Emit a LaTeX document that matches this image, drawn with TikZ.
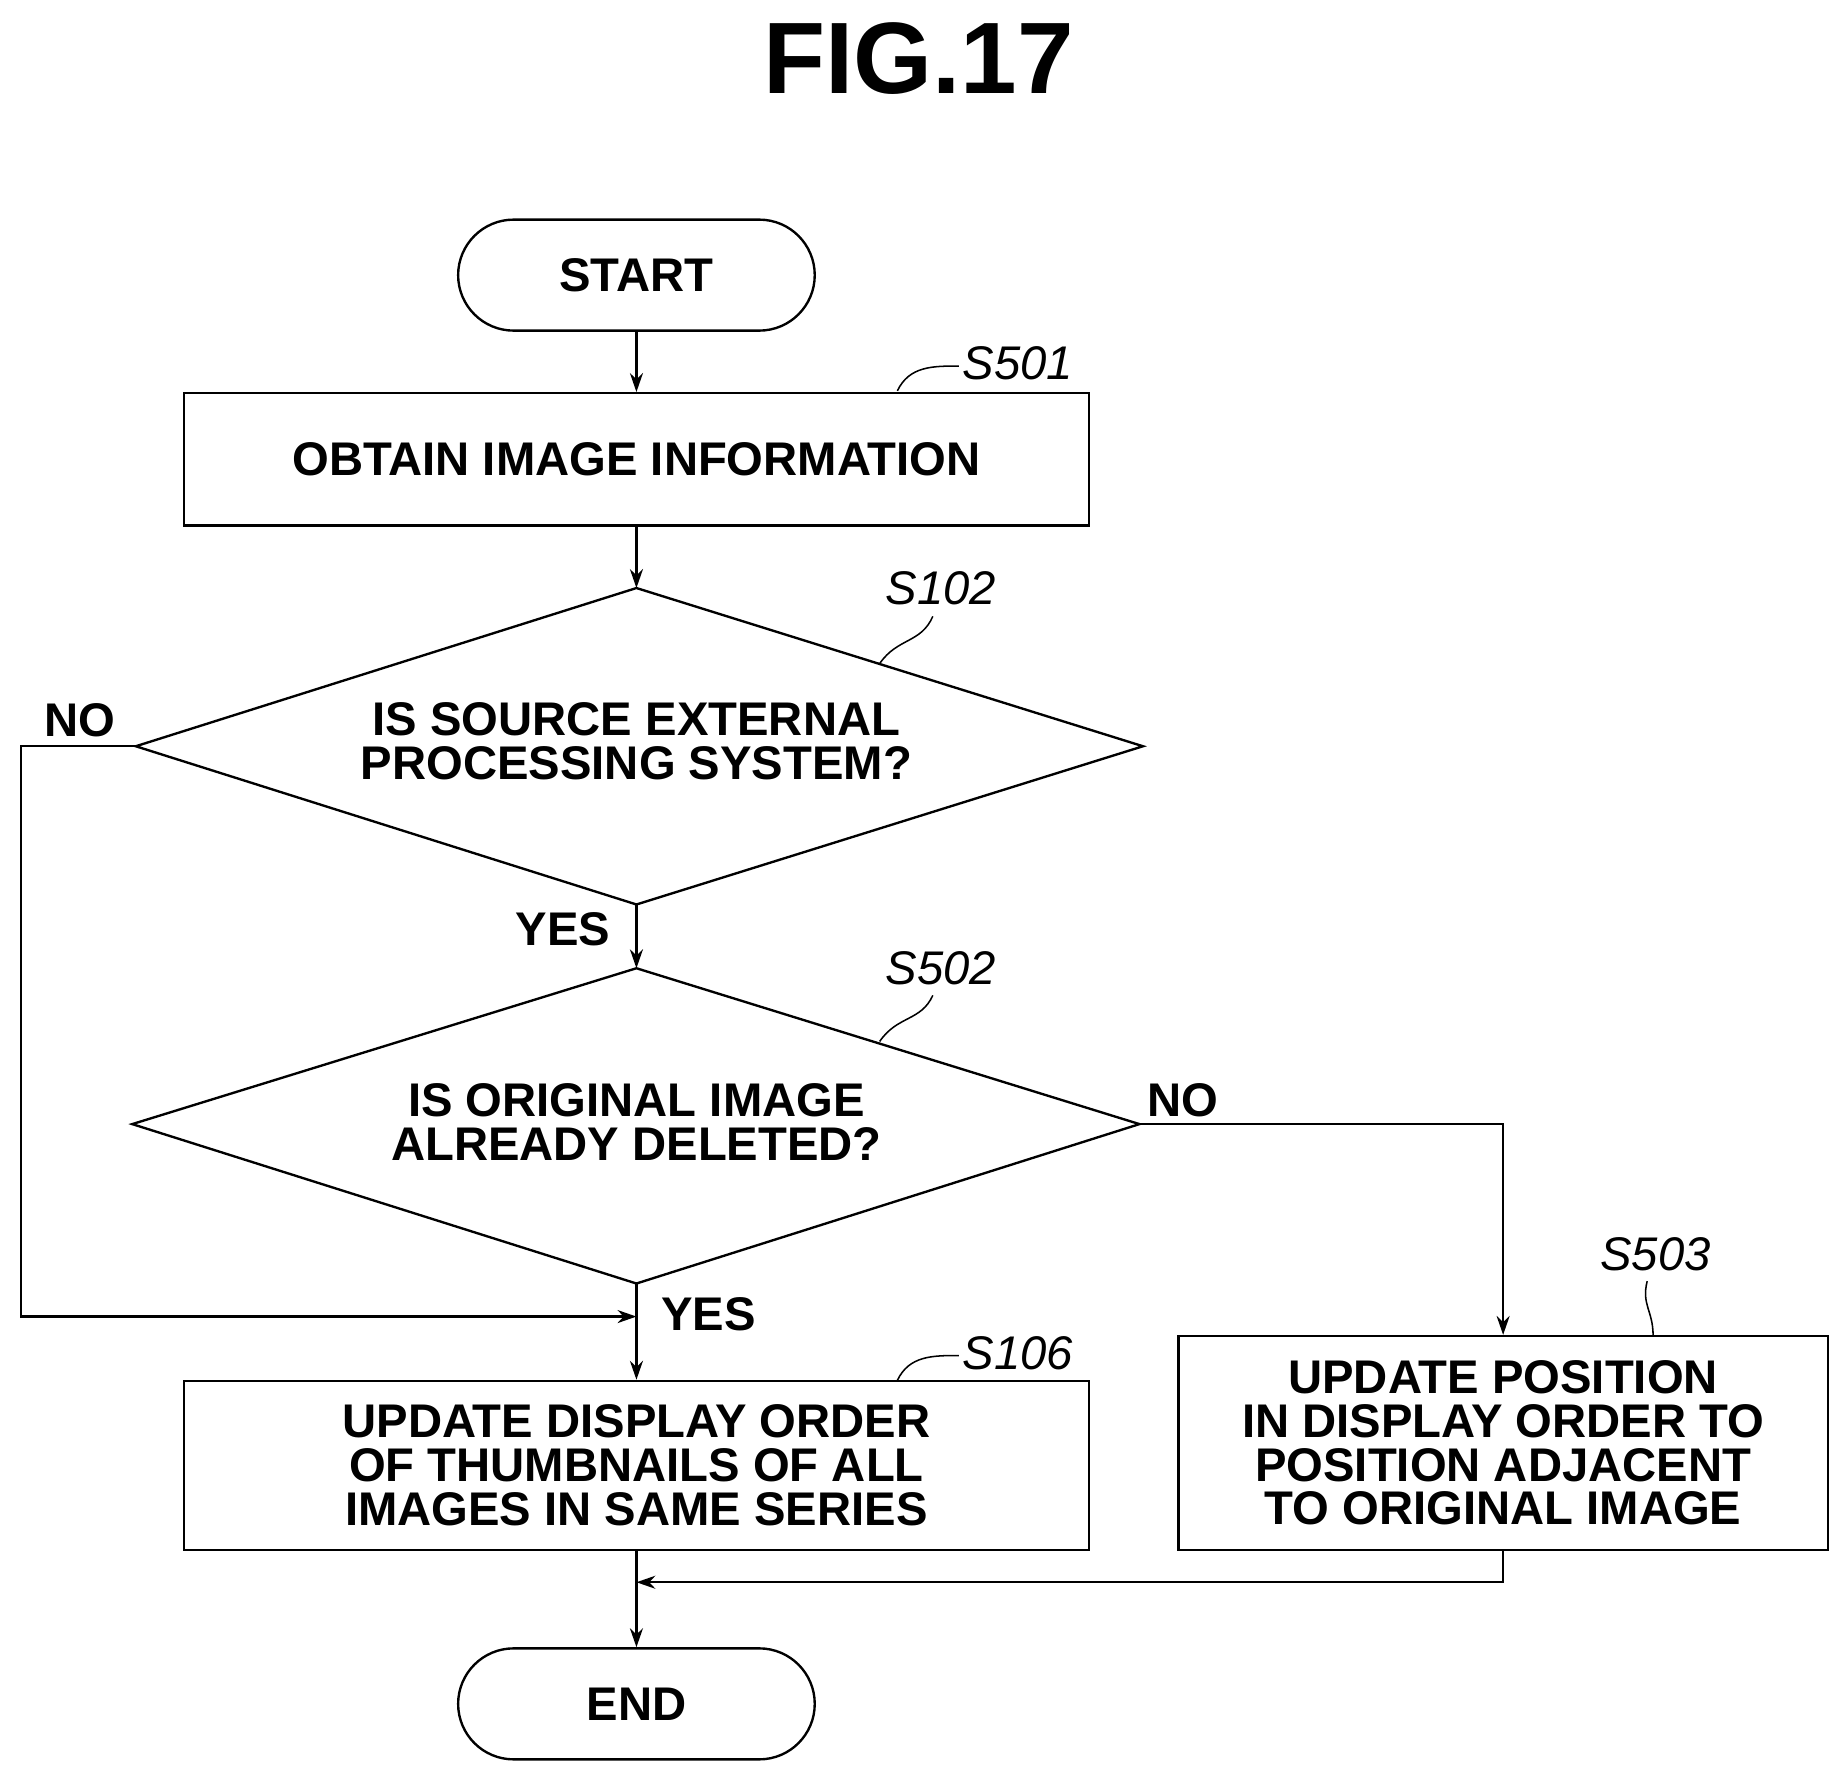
\documentclass[tikz,border=0pt]{standalone}
\usepackage{fontspec}
\setmainfont{Liberation Sans}
\usetikzlibrary{shapes.geometric,arrows.meta}
\begin{document}
\begin{tikzpicture}[x=1pt,y=-1pt,line width=2pt,
  every node/.style={font=\fontsize{40}{37}\selectfont\bfseries,align=center},
  box/.style={draw,minimum width=766pt,inner sep=0pt},
  term/.style={draw,rounded corners=47pt,minimum width=302pt,minimum height=94pt},
  lbl/.style={font=\fontsize{40}{40}\selectfont\itshape},
  arr/.style={-{Stealth[length=16pt,width=11pt]}},
  ld/.style={line width=1.3pt}]
\useasboundingbox (0,0) rectangle (1560,1502);
\node[font=\fontsize{86}{86}\selectfont\bfseries] (title) at (778,50) {FIG.17};
\node[term] (start) at (539,233) {START};
\node[box,minimum height=112pt] (s501) at (539,389) {OBTAIN IMAGE INFORMATION};
\coordinate (dt1) at (539,498); \coordinate (db1) at (539,766);
\coordinate (dl1) at (115,632); \coordinate (dr1) at (968,632);
\draw (dt1) -- (dr1) -- (db1) -- (dl1) -- cycle;
\node (q1) at (539,628) {IS SOURCE EXTERNAL\\PROCESSING SYSTEM?};
\coordinate (dt2) at (539,820); \coordinate (db2) at (539,1087);
\coordinate (dl2) at (112,952); \coordinate (dr2) at (965,952);
\draw (dt2) -- (dr2) -- (db2) -- (dl2) -- cycle;
\node (q2) at (539,950) {IS ORIGINAL IMAGE\\ALREADY DELETED?};
\node[box,minimum height=143pt] (s106) at (539,1241) {UPDATE DISPLAY ORDER\\OF THUMBNAILS OF ALL\\IMAGES IN SAME SERIES};
\node[draw,minimum width=550pt,minimum height=181pt,inner sep=0pt] (s503) at (1273,1222) {UPDATE POSITION\\IN DISPLAY ORDER TO\\POSITION ADJACENT\\TO ORIGINAL IMAGE};
\node[term] (end) at (539,1443) {END};
% labels
\node[lbl] (l501) at (862,308) {S501};
\draw[ld] (760,331) .. controls (770,310) and (790,310) .. (812,310);
\node[lbl] (l102) at (797,498) {S102};
\draw[ld] (745,562) .. controls (760,540) and (780,545) .. (790,522);
\node[lbl] (l502) at (797,820) {S502};
\draw[ld] (745,882) .. controls (760,860) and (780,865) .. (790,843);
\node[lbl] (l106) at (862,1146) {S106};
\draw[ld] (760,1169) .. controls (770,1148) and (790,1148) .. (812,1148);
\node[lbl] (l503) at (1402,1062) {S503};
\draw[ld] (1400,1131) .. controls (1400,1110) and (1390,1105) .. (1395,1085);
\node (no1) at (68,610) {NO};
\node (yes1) at (477,787) {YES};
\node (no2) at (1002,932) {NO};
\node (yes2) at (600,1113) {YES};
% connectors
\draw[arr] (start) -- (s501);
\draw[arr] (s501) -- (dt1);
\draw[arr] (db1) -- (dt2);
\draw[arr] (db2) -- (s106);
\coordinate (m1) at (539,1115);
\draw[arr] (dl1) -- (18,632) -- (18,1115) -- (m1);
\draw[arr] (dr2) -- (1273,952) -- (s503.north);
\coordinate (m2) at (539,1340);
\draw[arr] (s503.south) -- (1273,1340) -- (m2);
\draw[arr] (s106) -- (end);
\end{tikzpicture}
\end{document}
